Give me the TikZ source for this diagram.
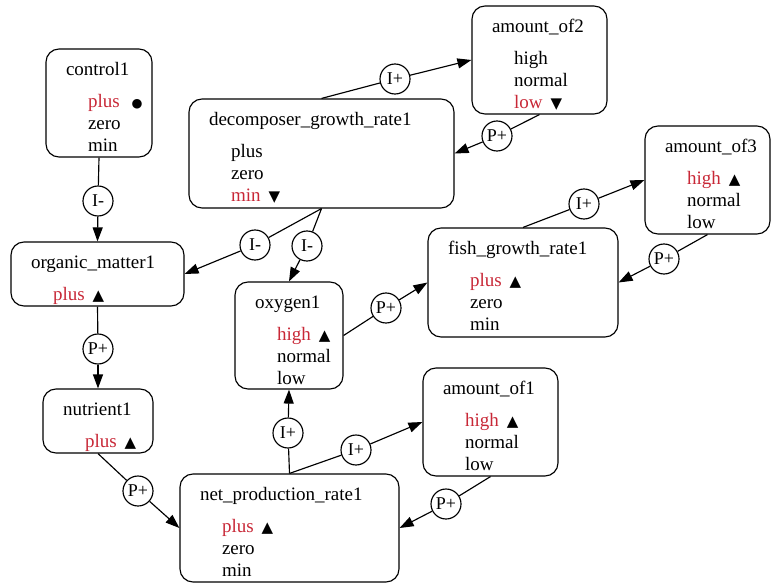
\documentclass[tikz,border=0pt]{standalone}
\usepackage{fontspec}
\setmainfont{Liberation Serif}
\newfontfamily\symfont{DejaVu Sans}
\usepackage{tikz}
\usetikzlibrary{arrows.meta}

\definecolor{qred}{RGB}{200,40,55}
\newcommand{\hl}[1]{\textcolor{qred}{#1}}
\newcommand{\upmk}{\hspace{8pt}{\symfont\fontsize{15}{15}\selectfont ▲}}
\newcommand{\downmk}{\hspace{8pt}{\symfont\fontsize{15}{15}\selectfont ▼}}
\newcommand{\dotmk}{\hspace{12pt}{\symfont\fontsize{12.5}{12.5}\selectfont ●}}

\begin{document}
\begin{tikzpicture}[x=1pt,y=-1pt,line width=1.15pt,font=\fontsize{19}{22}\selectfont,
	qbox/.style={draw,rounded corners=13pt,inner sep=0pt},
	ttl/.style={anchor=base west,inner sep=0pt},
	val/.style={anchor=base west,inner sep=0pt},
	lbl/.style={draw,circle,minimum size=30pt,inner sep=0pt,font=\fontsize{18}{18}\selectfont},
	arr/.style={-{Triangle[length=14pt,width=10pt]}}]
	\useasboundingbox (0,0) rectangle (771,583);
	% quantities
	\node[qbox,minimum width=106pt,minimum height=108pt] (control) at (99,103) {};
	\node[ttl] (control-t) at ([xshift=20pt,yshift=-27pt]control.north west) {control1};
	\foreach \v [count=\i from 0] in {{\hl{plus}\dotmk},zero,min}
	 \node[val] (control-\i) at ([xshift=42pt,yshift={-59pt-22pt*\i}]control.north west) {\v};

	\node[qbox,minimum width=265pt,minimum height=109pt] (dec) at (321.5,153.5) {};
	\node[ttl] (dec-t) at ([xshift=20pt,yshift=-27pt]dec.north west) {decomposer\_growth\_rate1};
	\foreach \v [count=\i from 0] in {plus,zero,{\hl{min}\downmk}}
	 \node[val] (dec-\i) at ([xshift=42pt,yshift={-59pt-22pt*\i}]dec.north west) {\v};

	\node[qbox,minimum width=135pt,minimum height=108pt] (a2) at (539.5,60) {};
	\node[ttl] (a2-t) at ([xshift=20pt,yshift=-27pt]a2.north west) {amount\_of2};
	\foreach \v [count=\i from 0] in {high,normal,{\hl{low}\downmk}}
	 \node[val] (a2-\i) at ([xshift=42pt,yshift={-59pt-22pt*\i}]a2.north west) {\v};

	\node[qbox,minimum width=125pt,minimum height=108pt] (a3) at (707.5,180) {};
	\node[ttl] (a3-t) at ([xshift=20pt,yshift=-27pt]a3.north west) {amount\_of3};
	\foreach \v [count=\i from 0] in {{\hl{high}\upmk},normal,low}
	 \node[val] (a3-\i) at ([xshift=42pt,yshift={-59pt-22pt*\i}]a3.north west) {\v};

	\node[qbox,minimum width=190pt,minimum height=109pt] (fish) at (523,282.5) {};
	\node[ttl] (fish-t) at ([xshift=20pt,yshift=-27pt]fish.north west) {fish\_growth\_rate1};
	\foreach \v [count=\i from 0] in {{\hl{plus}\upmk},zero,min}
	 \node[val] (fish-\i) at ([xshift=42pt,yshift={-59pt-22pt*\i}]fish.north west) {\v};

	\node[qbox,minimum width=173pt,minimum height=64pt] (om) at (97.5,274) {};
	\node[ttl] (om-t) at ([xshift=20pt,yshift=-27pt]om.north west) {organic\_matter1};
	\node[val] (om-0) at ([xshift=42pt,yshift=-59pt]om.north west) {\hl{plus}\upmk};

	\node[qbox,minimum width=108pt,minimum height=107pt] (ox) at (289,335.5) {};
	\node[ttl] (ox-t) at ([xshift=20pt,yshift=-27pt]ox.north west) {oxygen1};
	\foreach \v [count=\i from 0] in {{\hl{high}\upmk},normal,low}
	 \node[val] (ox-\i) at ([xshift=42pt,yshift={-59pt-22pt*\i}]ox.north west) {\v};

	\node[qbox,minimum width=110pt,minimum height=64pt] (nut) at (98,421) {};
	\node[ttl] (nut-t) at ([xshift=20pt,yshift=-27pt]nut.north west) {nutrient1};
	\node[val] (nut-0) at ([xshift=42pt,yshift=-59pt]nut.north west) {\hl{plus}\upmk};

	\node[qbox,minimum width=219pt,minimum height=108pt] (net) at (289.5,528) {};
	\node[ttl] (net-t) at ([xshift=20pt,yshift=-27pt]net.north west) {net\_production\_rate1};
	\foreach \v [count=\i from 0] in {{\hl{plus}\upmk},zero,min}
	 \node[val] (net-\i) at ([xshift=42pt,yshift={-59pt-22pt*\i}]net.north west) {\v};

	\node[qbox,minimum width=135pt,minimum height=108pt] (a1) at (490.5,422) {};
	\node[ttl] (a1-t) at ([xshift=20pt,yshift=-27pt]a1.north west) {amount\_of1};
	\foreach \v [count=\i from 0] in {{\hl{high}\upmk},normal,low}
	 \node[val] (a1-\i) at ([xshift=42pt,yshift={-59pt-22pt*\i}]a1.north west) {\v};

	% dependency labels
	\node[lbl] (c1) at (98,201) {I-};
	\node[lbl] (c2) at (255,245) {I-};
	\node[lbl] (c3) at (307,246) {I-};
	\node[lbl] (c4) at (395,79) {I+};
	\node[lbl] (c5) at (497,136) {P+};
	\node[lbl] (c6) at (584,204) {I+};
	\node[lbl] (c7) at (664,259) {P+};
	\node[lbl] (c8) at (386,308) {P+};
	\node[lbl] (c9) at (98,349) {P+};
	\node[lbl] (c10) at (138,491) {P+};
	\node[lbl] (c11) at (288,433) {I+};
	\node[lbl] (c12) at (356,450) {I+};
	\node[lbl] (c13) at (446,504) {P+};

	% dependencies
	\draw (control.south) -- (c1); \draw[arr] (c1) -- (om.north);
	\draw (dec.south) -- (c2); \draw[arr] (c2) -- (om.east);
	\draw (dec.south) -- (c3); \draw[arr] (c3) -- (ox.north);
	\draw (dec.north) -- (c4); \draw[arr] (c4) -- (a2.west);
	\draw (a2.south) -- (c5); \draw[arr] (c5) -- (dec.east);
	\draw (fish.north) -- (c6); \draw[arr] (c6) -- (a3.west);
	\draw (a3.south) -- (c7); \draw[arr] (c7) -- (fish.east);
	\draw (ox.east) -- (c8); \draw[arr] (c8) -- (fish.west);
	\draw (om.south) -- (c9); \draw[arr] (c9) -- (nut.north);
	\draw (nut.south) -- (c10); \draw[arr] (c10) -- (net.west);
	\draw (net.north) -- (c11); \draw[arr] (c11) -- (ox.south);
	\draw (net.north) -- (c12); \draw[arr] (c12) -- (a1.west);
	\draw (a1.south) -- (c13); \draw[arr] (c13) -- (net.east);
\end{tikzpicture}
\end{document}
